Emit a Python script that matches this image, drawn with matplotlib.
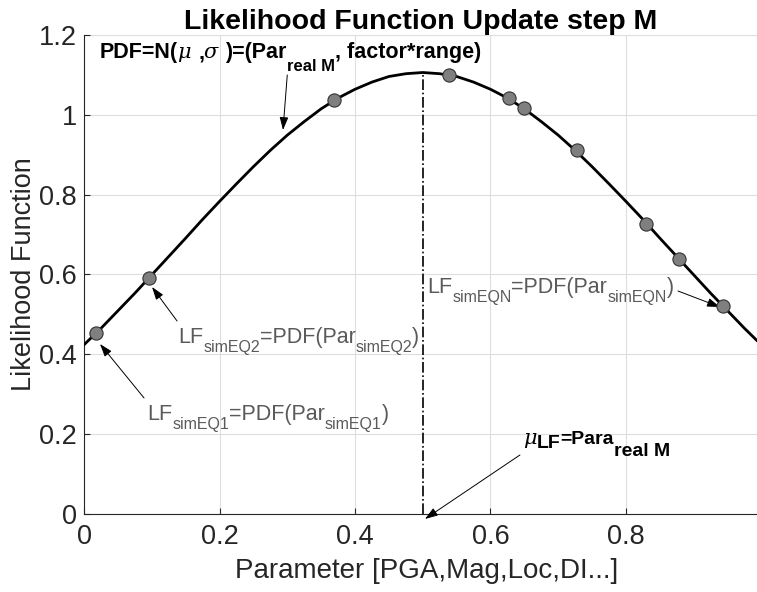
import numpy as np
import matplotlib
matplotlib.use('Agg')
import matplotlib.pyplot as plt
import matplotlib.transforms as mtransforms

# curva PDF
x_curva = [0.0, 0.025, 0.05, 0.075, 0.1, 0.125, 0.15, 0.175, 0.2, 0.225, 0.25,
           0.275, 0.3, 0.325, 0.35, 0.375, 0.4, 0.425, 0.45, 0.475, 0.5,
           0.525, 0.55, 0.575, 0.6, 0.625, 0.65, 0.675, 0.7, 0.725, 0.75,
           0.775, 0.8, 0.825, 0.85, 0.875, 0.9, 0.925, 0.95, 0.975, 0.993]
y_curva = [0.424, 0.465, 0.509, 0.553, 0.599, 0.645, 0.691, 0.738, 0.783, 0.827, 0.870,
           0.911, 0.949, 0.983, 1.015, 1.042, 1.064, 1.082, 1.096, 1.103, 1.106,
           1.103, 1.096, 1.082, 1.064, 1.042, 1.015, 0.983, 0.949, 0.911, 0.870,
           0.827, 0.783, 0.738, 0.691, 0.645, 0.599, 0.553, 0.509, 0.465, 0.435]

# puntos simulados (simEQ)
x_sim = [0.018, 0.096, 0.369, 0.539, 0.627, 0.649, 0.727, 0.830, 0.878, 0.943]
y_sim = [0.453, 0.591, 1.038, 1.100, 1.041, 1.016, 0.912, 0.727, 0.640, 0.521]

mu_lf = 0.5
pico = 1.106

xticks = [0, 0.2, 0.4, 0.6, 0.8]
xtick_labels = ['0', '0.2', '0.4', '0.6', '0.8']
yticks = [0, 0.2, 0.4, 0.6, 0.8, 1.0, 1.2]
ytick_labels = ['0', '0.2', '0.4', '0.6', '0.8', '1', '1.2']

plt.rcParams['font.family'] = ['Liberation Sans', 'DejaVu Sans']

gris_ejes = '#262626'
gris_texto = '#5a5a5a'


def texto_compuesto(ax, x, y, partes):
    # escribe trozos de texto seguidos (estilo subindice tex de matlab)
    fig = ax.figure
    r = fig.canvas.get_renderer()
    dx = 0
    for s, props, dy in partes:
        tr = mtransforms.offset_copy(ax.transData, fig=fig, x=dx, y=dy, units='dots')
        t = ax.text(x, y, s, transform=tr, va='baseline', ha='left', **props)
        dx += t.get_window_extent(r).width


fig = plt.figure(figsize=(7.57, 5.92), dpi=100)
ax = fig.add_axes([0.111, 0.1318, 0.889, 0.8091])

ax.plot(x_curva, y_curva, color='black', lw=2.0, zorder=3)
ax.plot([mu_lf, mu_lf], [0, pico], color='black', ls='-.', lw=1.2, zorder=2)
ax.plot(x_sim, y_sim, 'o', ms=9.5, mfc='#7f7f7f', mec='#333333', mew=0.8, zorder=4)

ax.set_xlim(0, 0.9934)
ax.set_ylim(0, 1.2)
ax.set_xticks(xticks)
ax.set_xticklabels(xtick_labels)
ax.set_yticks(yticks)
ax.set_yticklabels(ytick_labels)
ax.tick_params(direction='in', length=4, width=0.8, colors=gris_ejes, labelsize=19.5)
ax.tick_params(axis='x', pad=7)
ax.tick_params(axis='y', pad=5)
ax.grid(True, color='#dedede', lw=0.8)
ax.set_axisbelow(True)
for lado in ['top', 'right']:
    ax.spines[lado].set_visible(False)
for lado in ['left', 'bottom']:
    ax.spines[lado].set_color(gris_ejes)
    ax.spines[lado].set_linewidth(0.8)
# linea de grid superior
ax.axhline(1.2, color='#dedede', lw=0.8, clip_on=False, zorder=0)

ax.set_title('Likelihood Function Update step M', fontsize=20.5, fontweight='bold', pad=3)
ax.set_xlabel('Parameter [PGA,Mag,Loc,DI...]', fontsize=20, color=gris_ejes)
ax.set_ylabel('Likelihood Function', fontsize=19.5, color=gris_ejes)
ax.xaxis.set_label_coords(0.5097, -0.092)
ax.yaxis.set_label_coords(-0.0698, 0.5)

# textos y flechas
flecha = dict(arrowstyle='-|>,head_length=0.65,head_width=0.22', color='black',
              lw=0.7, shrinkA=0, shrinkB=0, mutation_scale=12)

negrita = dict(fontsize=15.5, fontweight='bold', color='black')
negrita_sub = dict(fontsize=12, fontweight='bold', color='black')
griego = dict(fontsize=15, fontstyle='italic', color='black', family='DejaVu Serif')

texto_compuesto(ax, 0.0236, 1.142, [
    ('PDF=N(', negrita, 0), ('\u03bc ', griego, 0), (',', negrita, 0),
    ('\u03c3 ', griego, 0), (')=(Par', negrita, 0), ('real M', negrita_sub, -13),
    (', factor*range)', negrita, 0)])
ax.annotate('', xy=(0.2937, 0.962), xytext=(0.300, 1.0997), arrowprops=flecha)

normal = dict(fontsize=15.5, color=gris_texto)
normal_sub = dict(fontsize=11.5, color=gris_texto)


def texto_lf(x, y, sub):
    texto_compuesto(ax, x, y, [
        ('LF', normal, 0), (sub, normal_sub, -9), ('=PDF(Par', normal, 0),
        (sub, normal_sub, -9), (')', normal, 0)])


texto_lf(0.093, 0.2355, 'simEQ1')
ax.annotate('', xy=(0.0236, 0.4259), xytext=(0.0886, 0.2906), arrowprops=flecha)

texto_lf(0.1387, 0.428, 'simEQ2')
ax.annotate('', xy=(0.1004, 0.5686), xytext=(0.1373, 0.4835), arrowprops=flecha)

texto_lf(0.5063, 0.5536, 'simEQN')
ax.annotate('', xy=(0.9387, 0.5185), xytext=(0.8768, 0.5586), arrowprops=flecha)

negrita2 = dict(fontsize=14, fontweight='bold', color='black')
texto_compuesto(ax, 0.648, 0.176, [
    ('\u03bc', griego, 0), ('LF', negrita2, -4), ('=Para', negrita2, 0),
    ('real M', negrita2, -12)])
ax.annotate('', xy=(0.5033, -0.0125), xytext=(0.6435, 0.1478), arrowprops=flecha,
            annotation_clip=False)

fig.savefig('out.png', dpi=100)
